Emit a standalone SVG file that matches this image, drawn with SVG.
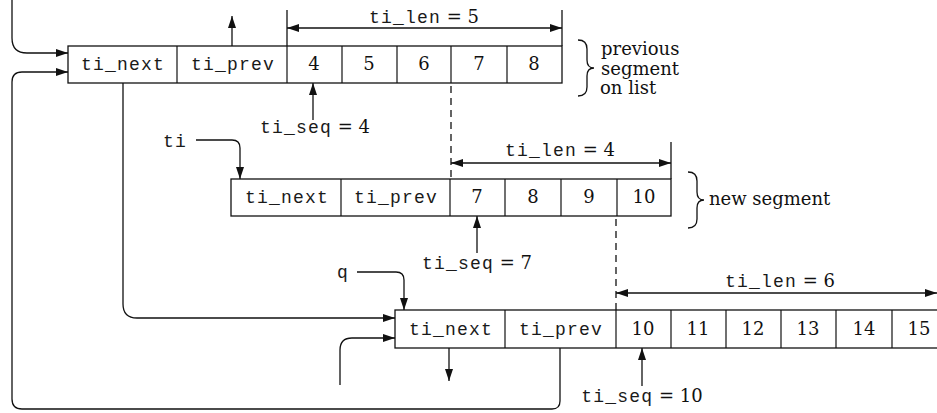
<svg xmlns="http://www.w3.org/2000/svg" width="937" height="413" viewBox="0 0 937 413">
  <style>
    .box { fill: #fff; stroke: #111; stroke-width: 1.3; }
    .div { stroke: #111; stroke-width: 1.2; }
    .ln { fill: none; stroke: #111; stroke-width: 1.3; }
    .dash { fill: none; stroke: #111; stroke-width: 1.3; stroke-dasharray: 7 5; }
    .mono { font-family: "Liberation Mono", "DejaVu Sans Mono", monospace; font-size: 18px; letter-spacing: 1.2px; fill: #1a1a1a; }
    .num { font-family: "DejaVu Serif", "Liberation Serif", serif; font-size: 18px; fill: #111; }
    .ser { font-family: "DejaVu Serif", "Liberation Serif", serif; font-size: 18px; letter-spacing: 0; fill: #111; }
    .c { text-anchor: middle; }
  </style>
  <defs>
    <marker id="arr" viewBox="0 0 12 8" refX="12" refY="4" markerWidth="12" markerHeight="8" markerUnits="userSpaceOnUse" orient="auto-start-reverse">
      <path d="M0,0 L12,4 L0,8 Z" fill="#111"/>
    </marker>
  </defs>

  <!-- previous segment on list -->
  <g id="seg-prev">
    <rect class="box" x="68" y="46" width="494" height="37"/>
    <line class="div" x1="177" y1="46" x2="177" y2="83"/>
    <line class="div" x1="287" y1="46" x2="287" y2="83"/>
    <line class="div" x1="342" y1="46" x2="342" y2="83"/>
    <line class="div" x1="397" y1="46" x2="397" y2="83"/>
    <line class="div" x1="451" y1="46" x2="451" y2="83"/>
    <line class="div" x1="507" y1="46" x2="507" y2="83"/>
    <text class="mono c" x="123" y="70">ti_next</text>
    <text class="mono c" x="233" y="70">ti_prev</text>
    <text class="num c" x="314" y="70">4</text>
    <text class="num c" x="369" y="70">5</text>
    <text class="num c" x="424" y="70">6</text>
    <text class="num c" x="479" y="70">7</text>
    <text class="num c" x="534" y="70">8</text>
  </g>

  <!-- new segment -->
  <g id="seg-new">
    <rect class="box" x="231" y="179" width="440" height="37"/>
    <line class="div" x1="341" y1="179" x2="341" y2="216"/>
    <line class="div" x1="450" y1="179" x2="450" y2="216"/>
    <line class="div" x1="505" y1="179" x2="505" y2="216"/>
    <line class="div" x1="561" y1="179" x2="561" y2="216"/>
    <line class="div" x1="617" y1="179" x2="617" y2="216"/>
    <text class="mono c" x="287" y="203">ti_next</text>
    <text class="mono c" x="396" y="203">ti_prev</text>
    <text class="num c" x="477" y="203">7</text>
    <text class="num c" x="533" y="203">8</text>
    <text class="num c" x="589" y="203">9</text>
    <text class="num c" x="644" y="203">10</text>
  </g>

  <!-- segment q -->
  <g id="seg-q">
    <rect class="box" x="395" y="310" width="560" height="38"/>
    <line class="div" x1="505" y1="310" x2="505" y2="348"/>
    <line class="div" x1="616" y1="310" x2="616" y2="348"/>
    <line class="div" x1="671" y1="310" x2="671" y2="348"/>
    <line class="div" x1="726" y1="310" x2="726" y2="348"/>
    <line class="div" x1="781" y1="310" x2="781" y2="348"/>
    <line class="div" x1="836" y1="310" x2="836" y2="348"/>
    <line class="div" x1="892" y1="310" x2="892" y2="348"/>
    <text class="mono c" x="451" y="335">ti_next</text>
    <text class="mono c" x="561" y="335">ti_prev</text>
    <text class="num c" x="643" y="335">10</text>
    <text class="num c" x="698" y="335">11</text>
    <text class="num c" x="753" y="335">12</text>
    <text class="num c" x="808" y="335">13</text>
    <text class="num c" x="864" y="335">14</text>
    <text class="num c" x="919" y="335">15</text>
  </g>

  <!-- side notes -->
  <g id="note-prev">
    <path class="ln" d="M578,40 Q587,40 587,49 V60 Q587,68 594,68 Q587,68 587,76 V87 Q587,96 578,96"/>
    <text class="ser" x="601" y="55">previous</text>
    <text class="ser" x="601" y="75">segment</text>
    <text class="ser" x="600" y="94">on list</text>
  </g>
  <g id="note-new">
    <path class="ln" d="M688,172 Q697,172 697,181 V192 Q697,200 704,200 Q697,200 697,208 V219 Q697,228 688,228"/>
    <text class="ser" x="709" y="205">new segment</text>
  </g>

  <!-- pointer labels -->
  <g id="lbl-ti">
    <text class="mono" x="163" y="147">ti</text>
  </g>
  <g id="lbl-q">
    <text class="mono" x="337" y="278">q</text>
  </g>

  <!-- field annotations -->
  <g id="ann-len5">
    <text class="c" x="424" y="23"><tspan class="mono">ti_len</tspan><tspan class="ser"> = 5</tspan></text>
  </g>
  <g id="ann-seq4">
    <text class="c" x="315" y="133"><tspan class="mono">ti_seq</tspan><tspan class="ser"> = 4</tspan></text>
  </g>
  <g id="ann-len4">
    <text class="c" x="560" y="156"><tspan class="mono">ti_len</tspan><tspan class="ser"> = 4</tspan></text>
  </g>
  <g id="ann-seq7">
    <text class="c" x="477" y="269"><tspan class="mono">ti_seq</tspan><tspan class="ser"> = 7</tspan></text>
  </g>
  <g id="ann-len6">
    <text class="c" x="780" y="287"><tspan class="mono">ti_len</tspan><tspan class="ser"> = 6</tspan></text>
  </g>
  <g id="ann-seq10">
    <text class="c" x="642" y="402"><tspan class="mono">ti_seq</tspan><tspan class="ser"> = 10</tspan></text>
  </g>

  <g id="connectors">
    <!-- links into previous segment -->
    <path class="ln" d="M12,0 V38 Q12,53 27,53 H68" marker-end="url(#arr)"/>
    <path class="ln" d="M560,348 V401 Q560,409 552,409 H22 Q12,409 12,399 V82 Q12,72 22,72 H68" marker-end="url(#arr)"/>
    <path class="ln" d="M232,46 V16" marker-end="url(#arr)"/>
    <!-- ti_next of previous segment to q -->
    <path class="ln" d="M123,83 V304 Q123,318 137,318 H395" marker-end="url(#arr)"/>
    <!-- ti pointer -->
    <path class="ln" d="M196,140 H232 Q240,140 240,148 V179" marker-end="url(#arr)"/>
    <!-- q pointer -->
    <path class="ln" d="M357,272 H396 Q404,272 404,280 V310" marker-end="url(#arr)"/>
    <!-- links at q -->
    <path class="ln" d="M340,385 V350 Q340,338 352,338 H395" marker-end="url(#arr)"/>
    <path class="ln" d="M449,348 V381" marker-end="url(#arr)"/>

    <!-- ti_len = 5 -->
    <line class="ln" x1="287" y1="10" x2="287" y2="46"/>
    <line class="ln" x1="562" y1="10" x2="562" y2="46"/>
    <line class="ln" x1="287" y1="28" x2="562" y2="28" marker-start="url(#arr)" marker-end="url(#arr)"/>
    <!-- ti_seq = 4 -->
    <line class="ln" x1="313" y1="120" x2="313" y2="83" marker-end="url(#arr)"/>

    <!-- ti_len = 4 -->
    <line class="dash" x1="451" y1="86" x2="451" y2="179"/>
    <line class="ln" x1="671" y1="142" x2="671" y2="179"/>
    <line class="ln" x1="451" y1="163" x2="671" y2="163" marker-start="url(#arr)" marker-end="url(#arr)"/>
    <!-- ti_seq = 7 -->
    <line class="ln" x1="477" y1="253" x2="477" y2="216" marker-end="url(#arr)"/>

    <!-- ti_len = 6 -->
    <line class="dash" x1="616" y1="219" x2="616" y2="310"/>
    <line class="ln" x1="616" y1="293" x2="937" y2="293" marker-start="url(#arr)" marker-end="url(#arr)"/>
    <!-- ti_seq = 10 -->
    <line class="ln" x1="642" y1="386" x2="642" y2="348" marker-end="url(#arr)"/>
  </g>
</svg>
